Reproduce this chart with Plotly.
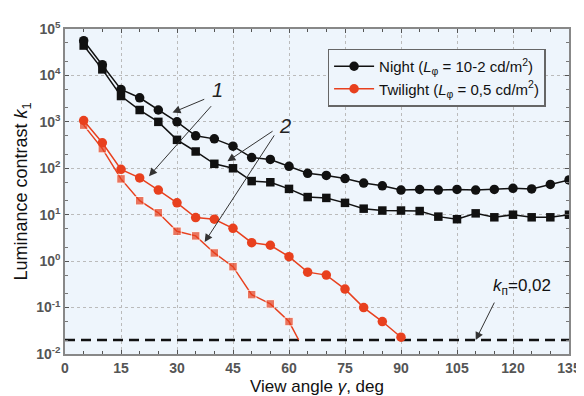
import plotly.graph_objects as go

angles = [5, 10, 15, 20, 25, 30, 35, 40, 45, 50, 55, 60, 65, 70, 75, 80, 85, 90,
          95, 100, 105, 110, 115, 120, 125, 130, 135]
night_1 = [5.6e4, 1.7e4, 5.0e3, 3.3e3, 1.8e3, 1.0e3, 500, 430, 300, 170, 155, 110,
           78, 70, 60, 48, 42, 34, 35, 34, 35, 34, 35, 37, 36, 45, 56]
night_2 = [4.4e4, 1.35e4, 3.6e3, 1.8e3, 1.0e3, 410, 230, 125, 100, 53, 50, 36,
           24, 23, 18, 13.5, 12.3, 12.3, 12, 9.1, 8.0, 10.7, 8.8, 10, 8.8, 8.8, 10]
tw_angles_1 = [5, 10, 15, 20, 25, 30, 35, 40, 45, 50, 55, 60, 65, 70, 75, 80, 85, 90]
twilight_1 = [1070, 355, 95, 62, 34, 18, 8.7, 8.0, 5.1, 2.5, 2.2, 1.25, 0.58, 0.5,
              0.25, 0.1, 0.05, 0.023]
tw_angles_2 = [5, 10, 15, 20, 25, 30, 35, 40, 45, 50, 55, 60, 62.6]
twilight_2 = [850, 265, 59, 20, 11, 4.4, 3.5, 1.5, 0.76, 0.19, 0.12, 0.05, 0.02]
threshold_x = [0, 135]
threshold_y = [0.02, 0.02]
y_tickvals = [1e-2, 1e-1, 1, 10, 100, 1e3, 1e4, 1e5]
y_ticktext = ["10<sup>-2</sup>", "10<sup>-1</sup>", "10<sup>0</sup>", "10<sup>1</sup>",
              "10<sup>2</sup>", "10<sup>3</sup>", "10<sup>4</sup>", "10<sup>5</sup>"]
x_tickvals = [0, 15, 30, 45, 60, 75, 90, 105, 120, 135]

BLACK = "#111111"
RED = "#E8401E"
FONT = "Liberation Sans, Arial, sans-serif"

fig = go.Figure()
fig.add_trace(go.Scatter(x=threshold_x, y=threshold_y, mode="lines",
                         line=dict(color="#111111", width=2.5, dash="10px,6px"),
                         showlegend=False, hoverinfo="skip"))
fig.add_trace(go.Scatter(x=angles, y=night_2, mode="lines+markers",
                         line=dict(color=BLACK, width=1.5),
                         marker=dict(symbol="square", size=8.5, color=BLACK),
                         showlegend=False))
fig.add_trace(go.Scatter(x=angles, y=night_1, mode="lines+markers",
                         name="Night (<i>L</i><sub>φ</sub> = 10-2 cd/m<sup>2</sup>)",
                         line=dict(color=BLACK, width=1.5),
                         marker=dict(symbol="circle", size=9.5, color=BLACK)))
sizes2 = [8.5] * (len(tw_angles_2) - 1) + [0]
fig.add_trace(go.Scatter(x=tw_angles_2, y=twilight_2, mode="lines+markers",
                         line=dict(color=RED, width=1.5),
                         marker=dict(symbol="square", size=sizes2, color=RED),
                         showlegend=False))
fig.add_trace(go.Scatter(x=tw_angles_1, y=twilight_1, mode="lines+markers",
                         name="Twilight (<i>L</i><sub>φ</sub> = 0,5 cd/m<sup>2</sup>)",
                         line=dict(color=RED, width=1.5),
                         marker=dict(symbol="circle", size=9.5, color=RED)))

arrow_color = "#333333"
arrows = [
    # (tail x, tail logy, head x, head logy)
    (37.7, 3.50, 28.8, 3.20),
    (39.5, 3.37, 22.5, 1.83),
    (56.0, 2.82, 43.5, 2.15),
    (56.3, 2.74, 37.4, 0.41),
    (115.2, -0.86, 110.0, -1.70),
]
for tx, ty, hx, hy in arrows:
    fig.add_annotation(x=hx, y=hy, ax=tx, ay=ty, xref="x", yref="y", axref="x", ayref="y",
                       showarrow=True, arrowhead=2, arrowsize=1.6, arrowwidth=1,
                       arrowcolor=arrow_color, text="")

fig.add_annotation(x=40.8, y=3.69, xref="x", yref="y", text="<i>1</i>", showarrow=False,
                   font=dict(size=20, color="#222222", family=FONT))
fig.add_annotation(x=58.9, y=2.91, xref="x", yref="y", text="<i>2</i>", showarrow=False,
                   font=dict(size=20, color="#222222", family=FONT))
fig.add_annotation(x=122.5, y=-0.56, xref="x", yref="y",
                   text="<i>k</i><sub>п</sub>=0,02", showarrow=False,
                   font=dict(size=17, color="#111111", family=FONT))

axis_common = dict(showline=True, linecolor="#888888", linewidth=1.5, mirror="ticks",
                   ticks="inside", ticklen=4, tickcolor="#555555",
                   showgrid=True, gridcolor="#BBBBBB", griddash="dot", gridwidth=1,
                   zeroline=False,
                   tickfont=dict(family=FONT, size=14, color="#555555", weight="bold"))

fig.update_xaxes(range=[0, 135], tickvals=x_tickvals,
                 title=dict(text="View angle <i>γ</i>, deg",
                            font=dict(family=FONT, size=17, color="#111111"), standoff=6),
                 minor=dict(ticks="inside", ticklen=3, tickcolor="#555555", dtick=5,
                            showgrid=False),
                 **axis_common)
fig.update_yaxes(type="log", range=[-2, 5], tickvals=y_tickvals, ticktext=y_ticktext,
                 title=dict(text="Luminance contrast <i>k</i><sub>1</sub>",
                            font=dict(family=FONT, size=18, color="#111111"), standoff=4),
                 minor=dict(ticks="inside", ticklen=3, tickcolor="#777777", showgrid=False),
                 **axis_common)

fig.update_layout(
    width=584, height=396,
    margin=dict(l=57, r=11, t=20, b=44),
    paper_bgcolor="white", plot_bgcolor="#EEF5FC",
    font=dict(family=FONT),
    legend=dict(x=0.521, y=0.94, xanchor="left", yanchor="top",
                bgcolor="#EEF5FC", bordercolor="#666666", borderwidth=1.5,
                font=dict(family=FONT, size=15, color="#111111"),
                tracegroupgap=2, itemwidth=40),
)

fig.write_html("out.html")
